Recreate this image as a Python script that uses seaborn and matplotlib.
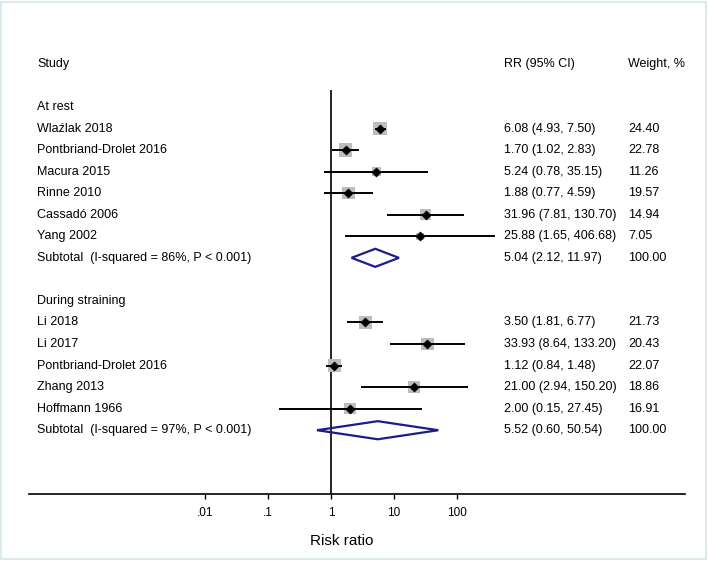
import matplotlib
matplotlib.use('Agg')
import numpy as np
import pandas as pd
import matplotlib.pyplot as plt
import matplotlib.transforms as mtransforms
from matplotlib.patches import Rectangle
from matplotlib.ticker import FixedLocator, NullLocator
import seaborn as sns

# ---- data ----
rest_study = ['Wlaźlak 2018', 'Pontbriand-Drolet 2016', 'Macura 2015',
              'Rinne 2010', 'Cassadó 2006', 'Yang 2002']
rest_rr = [6.08, 1.70, 5.24, 1.88, 31.96, 25.88]
rest_lo = [4.93, 1.02, 0.78, 0.77, 7.81, 1.65]
rest_hi = [7.50, 2.83, 35.15, 4.59, 130.70, 406.68]
rest_w = [24.40, 22.78, 11.26, 19.57, 14.94, 7.05]
rest_sub = [5.04, 2.12, 11.97]
rest_sub_label = 'Subtotal  (I-squared = 86%, P < 0.001)'

strain_study = ['Li 2018', 'Li 2017', 'Pontbriand-Drolet 2016',
                'Zhang 2013', 'Hoffmann 1966']
strain_rr = [3.50, 33.93, 1.12, 21.00, 2.00]
strain_lo = [1.81, 8.64, 0.84, 2.94, 0.15]
strain_hi = [6.77, 133.20, 1.48, 150.20, 27.45]
strain_w = [21.73, 20.43, 22.07, 18.86, 16.91]
strain_sub = [5.52, 0.60, 50.54]
strain_sub_label = 'Subtotal  (I-squared = 97%, P < 0.001)'

tick_vals = [0.01, 0.1, 1, 10, 100]
tick_labels = ['.01', '.1', '1', '10', '100']

# ---- layout rows ----
rest = pd.DataFrame({'study': rest_study, 'rr': rest_rr, 'lo': rest_lo,
                     'hi': rest_hi, 'w': rest_w})
rest['row'] = np.arange(1, len(rest) + 1)
strain = pd.DataFrame({'study': strain_study, 'rr': strain_rr, 'lo': strain_lo,
                       'hi': strain_hi, 'w': strain_w})
strain['row'] = np.arange(10, 10 + len(strain))
studies = pd.concat([rest, strain], ignore_index=True)

subs = [('At rest', 0, rest_sub_label, 7, rest_sub),
        ('During straining', 9, strain_sub_label, 15, strain_sub)]

sns.set_theme(style='white')
plt.rcParams['font.family'] = ['Liberation Sans', 'DejaVu Sans']
plt.rcParams['text.color'] = 'black'

W, H = 708, 561
fig = plt.figure(figsize=(W / 100, H / 100), dpi=100)
ax = fig.add_axes([29 / W, 67 / H, 656 / W, 451.65 / H])
ax.set_xscale('log')
ax.set_xlim(10 ** -4.794, 10 ** 5.619)
ax.set_ylim(17.96, -3)

# boxes (area ~ weight), CI lines, point estimates
sns.scatterplot(data=studies, x='rr', y='row', size='w', sizes=(0, 100),
                size_norm=(0, 24.4), marker='s', color='#bdbdbd',
                edgecolor='none', legend=False, ax=ax, zorder=2)
ax.hlines(studies['row'], studies['lo'], studies['hi'], color='black',
          lw=1.4, zorder=3)
sns.scatterplot(data=studies, x='rr', y='row', marker='D', s=22,
                color='black', edgecolor='black', legend=False, ax=ax, zorder=4)

# null line
ax.vlines(1, -0.8, 17.96, color='black', lw=1.2, zorder=1)

# subtotal diamonds
for name, grow, lab, srow, (m, lo, hi) in subs:
    ax.fill([lo, m, hi, m, lo], [srow, srow - 0.42, srow, srow + 0.42, srow],
            facecolor='none', edgecolor='#1c1c8c', lw=1.6, zorder=3)

# axis styling
for s in ['top', 'left', 'right']:
    ax.spines[s].set_visible(False)
ax.spines['bottom'].set_color('black')
ax.spines['bottom'].set_linewidth(1.2)
ax.xaxis.set_major_locator(FixedLocator(tick_vals))
ax.xaxis.set_minor_locator(NullLocator())
ax.set_xticklabels(tick_labels)
ax.set_yticks([])
ax.tick_params(axis='x', bottom=True, direction='out', length=3.6, width=1,
               pad=6, labelsize=8.5, colors='black')
ax.set_xlabel('')
ax.set_ylabel('')

# text columns
tr = mtransforms.blended_transform_factory(fig.transFigure, ax.transData)
fs = 9
x_study, x_rr, x_w = 37 / W, 504 / W, 628 / W
fig.text(x_study, -2, 'Study', transform=tr, fontsize=fs, va='center')
fig.text(x_rr, -2, 'RR (95% CI)', transform=tr, fontsize=fs, va='center')
fig.text(x_w, -2, 'Weight, %', transform=tr, fontsize=fs, va='center')

for _, r in studies.iterrows():
    fig.text(x_study, r['row'], r['study'], transform=tr, fontsize=fs, va='center')
    fig.text(x_rr, r['row'], f"{r['rr']:.2f} ({r['lo']:.2f}, {r['hi']:.2f})",
             transform=tr, fontsize=fs, va='center')
    fig.text(x_w, r['row'], f"{r['w']:.2f}", transform=tr, fontsize=fs, va='center')

for name, grow, lab, srow, (m, lo, hi) in subs:
    fig.text(x_study, grow, name, transform=tr, fontsize=fs, va='center')
    fig.text(x_study, srow, lab, transform=tr, fontsize=fs, va='center')
    fig.text(x_rr, srow, f"{m:.2f} ({lo:.2f}, {hi:.2f})", transform=tr,
             fontsize=fs, va='center')
    fig.text(x_w, srow, '100.00', transform=tr, fontsize=fs, va='center')

fig.text(342 / W, 1 - 541 / H, 'Risk ratio', fontsize=11, ha='center', va='center')

# light frame around the figure
fig.patches.append(Rectangle((0.002, 0.003), 0.995, 0.994, transform=fig.transFigure,
                             fill=False, edgecolor='#dce9ed', lw=1.5))

fig.savefig('out.png', dpi=100)
